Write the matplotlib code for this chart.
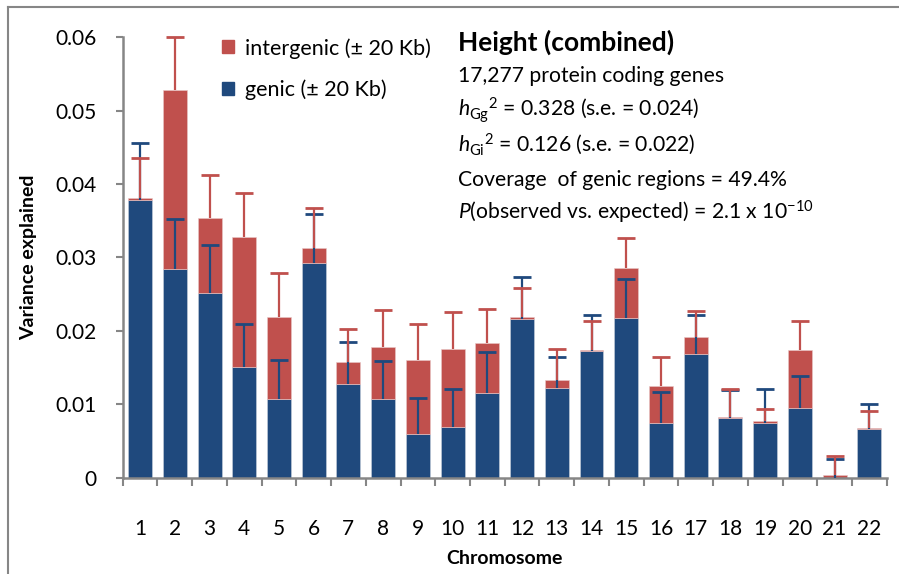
import numpy as np
import matplotlib
matplotlib.use('Agg')
import matplotlib.pyplot as plt
from matplotlib.patches import Patch

plt.rcParams['font.family'] = ['Lato', 'DejaVu Sans']
plt.rcParams['mathtext.fontset'] = 'custom'
plt.rcParams['mathtext.rm'] = 'Lato'
plt.rcParams['mathtext.it'] = 'Lato:italic'
plt.rcParams['mathtext.bf'] = 'Lato:bold'

# data
chromosomes = [str(i) for i in range(1, 23)]
genic = [0.0378, 0.0284, 0.0251, 0.0151, 0.0107, 0.0292, 0.0127, 0.0107, 0.0060, 0.0069, 0.0116,
         0.0216, 0.0122, 0.0172, 0.0218, 0.0074, 0.0169, 0.0081, 0.0074, 0.0095, 0.0000, 0.0066]
intergenic = [0.0003, 0.0244, 0.0103, 0.0177, 0.0112, 0.0021, 0.0030, 0.0071, 0.0100, 0.0106, 0.0068,
              0.0003, 0.0011, 0.0002, 0.0068, 0.0051, 0.0023, 0.0002, 0.0003, 0.0079, 0.0003, 0.0002]
genic_err = [0.0078, 0.0068, 0.0066, 0.0058, 0.0054, 0.0067, 0.0058, 0.0052, 0.0049, 0.0052, 0.0055,
             0.0058, 0.0043, 0.0049, 0.0053, 0.0043, 0.0052, 0.0039, 0.0047, 0.0043, 0.0026, 0.0034]
intergenic_err = [0.0055, 0.0073, 0.0058, 0.0060, 0.0060, 0.0055, 0.0046, 0.0051, 0.0049, 0.0051, 0.0046,
                  0.0040, 0.0043, 0.0039, 0.0040, 0.0039, 0.0035, 0.0038, 0.0017, 0.0040, 0.0026, 0.0023]

blue = '#1F497D'
red = '#C0504D'
grey = '#868686'

x = np.arange(1, 23)
genic = np.array(genic)
intergenic = np.array(intergenic)
total = genic + intergenic

fig = plt.figure(figsize=(8.99, 5.74), dpi=100)
ax = fig.add_axes([0.1365, 0.1678, 0.8498, 0.7672])

ax.bar(x, genic, width=0.69, color=blue, edgecolor='#c8d0dc', linewidth=0.4, zorder=2)
ax.bar(x, intergenic, bottom=genic, width=0.69, color=red, edgecolor='#e8c8c8', linewidth=0.4, zorder=2)

# plus-only error bars, Excel style
ax.errorbar(x, genic, yerr=[np.zeros(22), genic_err], fmt='none', ecolor=blue, elinewidth=1.6,
            capsize=0, zorder=3, clip_on=False)
ax.plot(x, genic + np.array(genic_err), ls='none', marker='_', ms=13, mew=2, color=blue,
        zorder=3, clip_on=False)
ax.errorbar(x, total, yerr=[np.zeros(22), intergenic_err], fmt='none', ecolor=red, elinewidth=1.6,
            capsize=0, zorder=4, clip_on=False)
ax.plot(x, total + np.array(intergenic_err), ls='none', marker='_', ms=13, mew=2, color=red,
        zorder=4, clip_on=False)

ax.set_xlim(0.5, 22.5)
ax.set_ylim(0, 0.06)
ax.set_yticks([0, 0.01, 0.02, 0.03, 0.04, 0.05, 0.06])
ax.set_yticklabels(['0', '0.01', '0.02', '0.03', '0.04', '0.05', '0.06'])
ax.set_xticks(x)
ax.set_xticklabels(chromosomes)
ax.set_xticks(np.arange(0.5, 23, 1), minor=True)
ax.tick_params(axis='x', which='major', length=0, pad=30, labelsize=15)
ax.tick_params(axis='x', which='minor', length=6, width=1.5, color=grey, direction='out')
ax.tick_params(axis='y', length=5, width=1.5, color=grey, direction='out', pad=14, labelsize=15)

for s in ['top', 'right']:
    ax.spines[s].set_visible(False)
for s in ['left', 'bottom']:
    ax.spines[s].set_color(grey)
    ax.spines[s].set_linewidth(1.8)

ax.set_xlabel('Chromosome', fontsize=14, fontweight='bold', labelpad=8)
ax.set_ylabel('Variance explained', fontsize=14, fontweight='bold', labelpad=13)

handles = [Patch(color=red, label='intergenic (± 20 Kb)'), Patch(color=blue, label='genic (± 20 Kb)')]
fig.legend(handles=handles, loc='upper left', bbox_to_anchor=(222 / 899, 1 - 38 / 574),
           frameon=False, fontsize=15.5, handlelength=0.55, handleheight=0.55, handletextpad=0.5,
           labelspacing=0.95, borderpad=0, borderaxespad=0)

tx = 458 / 899
fig.text(tx, 1 - 42 / 574, 'Height (combined)', fontsize=19, fontweight='bold', va='center')
lines = ['17,277 protein coding genes',
         r'$h_{\mathrm{Gg}}{}^{2}$ = 0.328 (s.e. = 0.024)',
         r'$h_{\mathrm{Gi}}{}^{2}$ = 0.126 (s.e. = 0.022)',
         'Coverage  of genic regions = 49.4%',
         r'$P$(observed vs. expected) = 2.1 x 10$^{\mathrm{-10}}$']
ys = [76, 110, 144, 180, 212]
for t, yy in zip(lines, ys):
    fig.text(tx, 1 - yy / 574, t, fontsize=15.2, va='center')

# chart frame (cut off at right and bottom like the reference)
fig.add_artist(plt.Line2D([8 / 899, 8 / 899], [0, 1 - 7 / 574], color=grey, lw=1.5))
fig.add_artist(plt.Line2D([8 / 899, 1], [1 - 7 / 574, 1 - 7 / 574], color=grey, lw=1.5))

fig.savefig('out.png', dpi=100)
